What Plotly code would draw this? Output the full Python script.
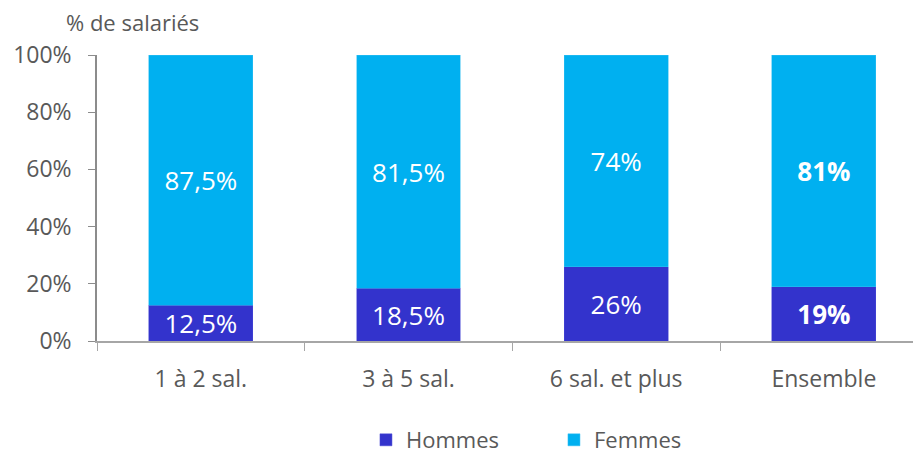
import plotly.graph_objects as go

categories = ["1 à 2 sal.", "3 à 5 sal.", "6 sal. et plus", "Ensemble"]
hommes = [12.5, 18.5, 26, 19]
femmes = [87.5, 81.5, 74, 81]
hommes_labels = ["12,5%", "18,5%", "26%", "<b>19%</b>"]
femmes_labels = ["87,5%", "81,5%", "74%", "<b>81%</b>"]
y_ticks = [0, 20, 40, 60, 80, 100]
y_tick_labels = ["0%", "20%", "40%", "60%", "80%", "100%"]

FONT = "'Open Sans', sans-serif"
GRAY = "#595959"

fig = go.Figure()
fig.add_trace(go.Bar(
    name="Hommes", x=categories, y=hommes, marker_color="#3333CC",
    marker_line=dict(color="#4a4ad6", width=0.5),
    text=hommes_labels, textposition="inside", insidetextanchor="middle",
    textangle=0, constraintext="none",
    textfont=dict(color="white", size=26, family=FONT),
    width=0.5,
))
fig.add_trace(go.Bar(
    name="Femmes", x=categories, y=femmes, marker_color="#00B0F0",
    marker_line=dict(color="#33bff2", width=0.5),
    text=femmes_labels, textposition="inside", insidetextanchor="middle",
    textangle=0, constraintext="none",
    textfont=dict(color="white", size=26, family=FONT),
    width=0.5,
))

fig.update_layout(
    barmode="stack",
    width=913, height=455,
    margin=dict(l=97, r=0, t=55, b=114, autoexpand=False),
    paper_bgcolor="white", plot_bgcolor="white",
    font=dict(family=FONT, color=GRAY, size=22),
    showlegend=True,
    legend=dict(orientation="h", x=0.56, xanchor="center",
                yref="container", y=(455 - 440) / 455, yanchor="middle",
                font=dict(size=22, color=GRAY), entrywidth=143, entrywidthmode="pixels",
                traceorder="normal"),
    xaxis=dict(range=[-0.5, 3.429], showline=True, linecolor="#A6A6A6", linewidth=1.5,
               ticks="outside", tickson="boundaries", ticklen=8, tickcolor="#A6A6A6",
               tickfont=dict(size=23, color=GRAY), showgrid=False, automargin=False,
               ticklabelstandoff=17),
    yaxis=dict(range=[0, 100], tickvals=y_ticks, ticktext=y_tick_labels,
               showline=True, linecolor="#8C8C8C", linewidth=1.5,
               ticks="outside", ticklen=7, tickcolor="#8C8C8C",
               tickfont=dict(size=23, color=GRAY), showgrid=False, zeroline=False,
               automargin=False, ticklabelstandoff=12),
    annotations=[dict(text="% de salariés", xref="paper", yref="paper",
                      x=(132 - 97) / 816, y=1 + (55 - 22) / 286,
                      xanchor="center", yanchor="middle",
                      showarrow=False, font=dict(size=22, color=GRAY))],
)

fig.write_html("out.html", config={"displayModeBar": False},
               post_script="document.body.style.margin='0';document.body.style.padding='0';")
